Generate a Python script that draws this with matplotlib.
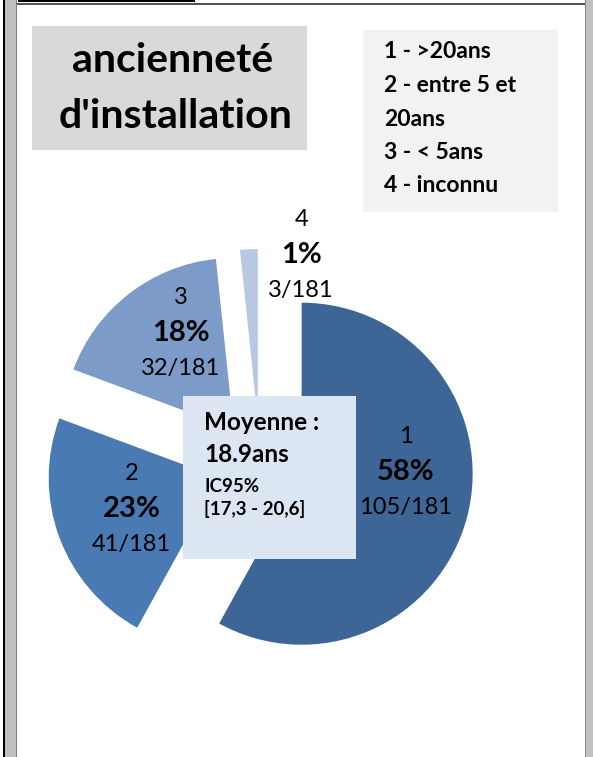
import matplotlib.pyplot as plt
import numpy as np
from matplotlib.patches import Rectangle

plt.rcParams['font.family'] = ['Lato', 'DejaVu Sans']

# données
categories = ['1', '2', '3', '4']
counts = [105, 41, 32, 3]
total = 181
pct_labels = ['58%', '23%', '18%', '1%']
colors = ['#3d6596', '#4a7ab4', '#7c9bc8', '#b8c8e2']

legend_lines = ['1 - >20ans', '2 - entre 5 et', '20ans', '3 - < 5ans', '4 - inconnu']
title_lines = ['ancienneté', "d'installation"]
box_lines = ['Moyenne :', '18.9ans', 'IC95%', '[17,3 - 20,6]']

W, H = 593, 757
def py(y):
    return H - y  # pixel -> data (y vers le haut)

fig = plt.figure(figsize=(W / 100, H / 100), dpi=100)
ax = fig.add_axes([0, 0, 1, 1])

# camembert éclaté
R = 171
wedges, _ = ax.pie(counts, colors=colors, startangle=90, counterclock=False,
                   radius=R, center=(260, py(463)), explode=[43] * 4)
ax.set_xlim(0, W)
ax.set_ylim(0, H)
ax.set_aspect('equal')
ax.axis('off')

# étiquettes des parts (position relative au centre de chaque part)
lab_r = [0.61, 0.545, 0.64, 1.0]
lab_ang = [1, 199.4, 118.9, 75.3]
for w, cat, n, p, f, a in zip(wedges, categories, counts, pct_labels, lab_r, lab_ang):
    cx, cy = w.center
    x = cx + f * R * np.cos(np.radians(a))
    y = cy + f * R * np.sin(np.radians(a))
    ax.text(x, y + 35.5, cat, ha='center', va='center', fontsize=17)
    ax.text(x, y, p, ha='center', va='center', fontsize=21, fontweight='bold')
    ax.text(x, y - 35.5, f'{n}/{total}', ha='center', va='center', fontsize=17)

# boîte centrale
ax.add_patch(Rectangle((183, py(559)), 173, 163, facecolor='#dce6f2', edgecolor='none', zorder=5))
ax.text(204, py(423), box_lines[0], fontsize=17.5, fontweight='bold', va='center', zorder=6)
ax.text(204, py(455), box_lines[1], fontsize=17.5, fontweight='bold', va='center', zorder=6)
ax.text(204, py(486), box_lines[2], fontsize=13.5, fontweight='bold', va='center', zorder=6)
ax.text(204, py(509), box_lines[3], fontsize=13.5, fontweight='bold', va='center', zorder=6)

# titre
ax.add_patch(Rectangle((32, py(150)), 275, 124, facecolor='#d9d9d9', edgecolor='none'))
ax.text(173, py(60), title_lines[0], ha='center', va='center', fontsize=29.5, fontweight='bold')
ax.text(176, py(117), title_lines[1], ha='center', va='center', fontsize=29.5, fontweight='bold')

# légende
ax.add_patch(Rectangle((363, py(212)), 195, 182, facecolor='#f2f2f2', edgecolor='none'))
for i, line in enumerate(legend_lines):
    ax.text(384, py(52 + i * 33.5), line, fontsize=16.5, fontweight='bold', va='center')

# cadre
ax.add_patch(Rectangle((3, 0), 1.5, H, facecolor='black', edgecolor='none', clip_on=False))
ax.add_patch(Rectangle((4.5, 0), 12, H, facecolor='#c0c0c0', edgecolor='none', clip_on=False))
ax.add_patch(Rectangle((16, 0), 1.2, H, facecolor='#7f7f7f', edgecolor='none', clip_on=False))
ax.add_patch(Rectangle((585, 0), 8, H, facecolor='#c0c0c0', edgecolor='none', clip_on=False))
ax.add_patch(Rectangle((585, 0), 1, H, facecolor='#8a8a8a', edgecolor='none', clip_on=False))
ax.add_patch(Rectangle((17, py(4.5)), 568, 1.2, facecolor='#555555', edgecolor='none', clip_on=False))
ax.add_patch(Rectangle((18, py(2)), 177, 2, facecolor='black', edgecolor='none', clip_on=False))

fig.savefig('out.png', dpi=100)
